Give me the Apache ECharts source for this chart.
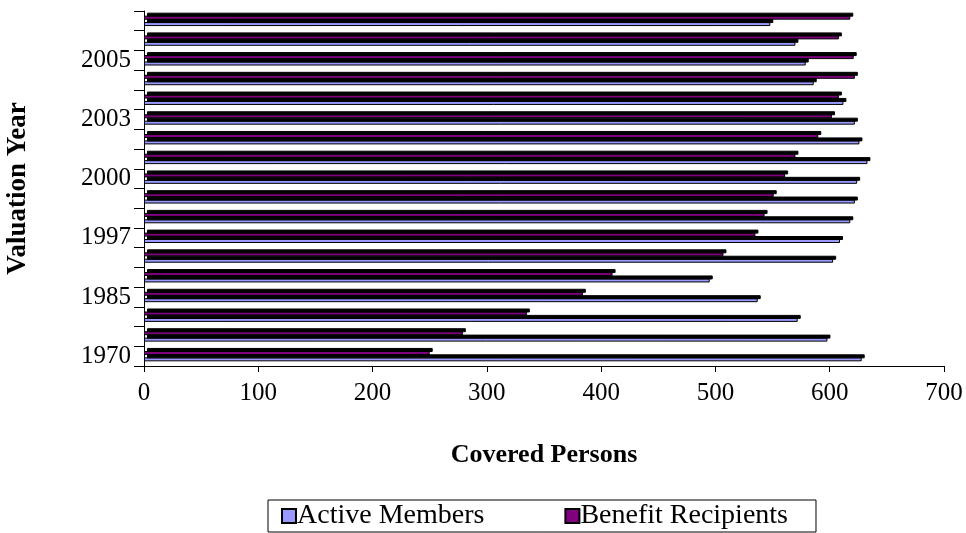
<!DOCTYPE html>
<html>
<head>
<meta charset="utf-8">
<script src="https://cdn.jsdelivr.net/npm/echarts@6/dist/echarts.min.js"></script>
<style>
html,body{margin:0;padding:0;background:#fff;}
#chart{width:966px;height:533px;}
</style>
</head>
<body>
<div id="chart"></div>
<script>
const years = ['1970','1975','1980','1985','1990','1995','1997','1998','1999','2000','2001','2002','2003','2004','2004 ','2005','2006','2007'];
const activeMembers     = [628, 598, 572, 537, 495, 603, 609, 618, 622, 624, 633, 626, 622, 612, 586, 579, 570, 548];
const benefitRecipients = [250, 279, 335, 384, 410, 507, 535, 543, 551, 561, 570, 590, 602, 608, 622, 621, 608, 618];
const xTicks = [0, 100, 200, 300, 400, 500, 600, 700];

const font = 'Liberation Serif';
const chart = echarts.init(document.getElementById('chart'), null, {renderer: 'canvas'});

function barStyle(color) {
  return {
    color: color,
    borderColor: '#000',
    borderWidth: 1,
    shadowColor: '#000',
    shadowBlur: 0,
    shadowOffsetX: 3,
    shadowOffsetY: -3
  };
}

chart.setOption({
  animation: false,
  backgroundColor: '#fff',
  grid: {left: 144, right: 22, top: 11, bottom: 167, containLabel: false, outerBoundsMode: 'none'},
  xAxis: {
    type: 'value',
    min: xTicks[0],
    max: xTicks[xTicks.length - 1],
    interval: 100,
    name: 'Covered Persons',
    nameLocation: 'middle',
    nameGap: 76,
    nameTextStyle: {fontFamily: font, fontSize: 26, fontWeight: 'bold', color: '#000'},
    axisLine: {show: true, lineStyle: {color: '#000', width: 1}},
    axisTick: {show: true, length: 6, lineStyle: {color: '#000'}},
    axisLabel: {fontFamily: font, fontSize: 25, color: '#000', margin: 15},
    splitLine: {show: false}
  },
  yAxis: {
    type: 'category',
    data: years,
    name: 'Valuation Year',
    nameLocation: 'middle',
    nameRotate: 90,
    nameGap: 112,
    nameTextStyle: {fontFamily: font, fontSize: 27, fontWeight: 'bold', color: '#000'},
    axisLine: {show: true, lineStyle: {color: '#000', width: 1}},
    axisTick: {show: true, interval: 0, length: 10, lineStyle: {color: '#000'}},
    axisLabel: {interval: 2, fontFamily: font, fontSize: 25, color: '#000', margin: 13},
    splitLine: {show: false}
  },
  legend: {
    bottom: 1,
    left: 268,
    orient: 'horizontal',
    itemGap: 80,
    itemWidth: 14,
    itemHeight: 14,
    icon: 'rect',
    borderColor: '#000',
    borderWidth: 1,
    padding: [2, 28, 2, 13],
    textStyle: {fontFamily: font, fontSize: 28, color: '#000', padding: [0, 0, 0, -4]},
    data: ['Active Members', 'Benefit Recipients']
  },
  series: [
    {
      name: 'Benefit Recipients',
      type: 'bar',
      data: benefitRecipients,
      barWidth: 4,
      barGap: '60%',
      itemStyle: barStyle('#800080')
    },
    {
      name: 'Active Members',
      type: 'bar',
      data: activeMembers,
      barWidth: 4,
      barGap: '60%',
      itemStyle: barStyle('#9999FF')
    }
  ]
});
</script>
</body>
</html>
